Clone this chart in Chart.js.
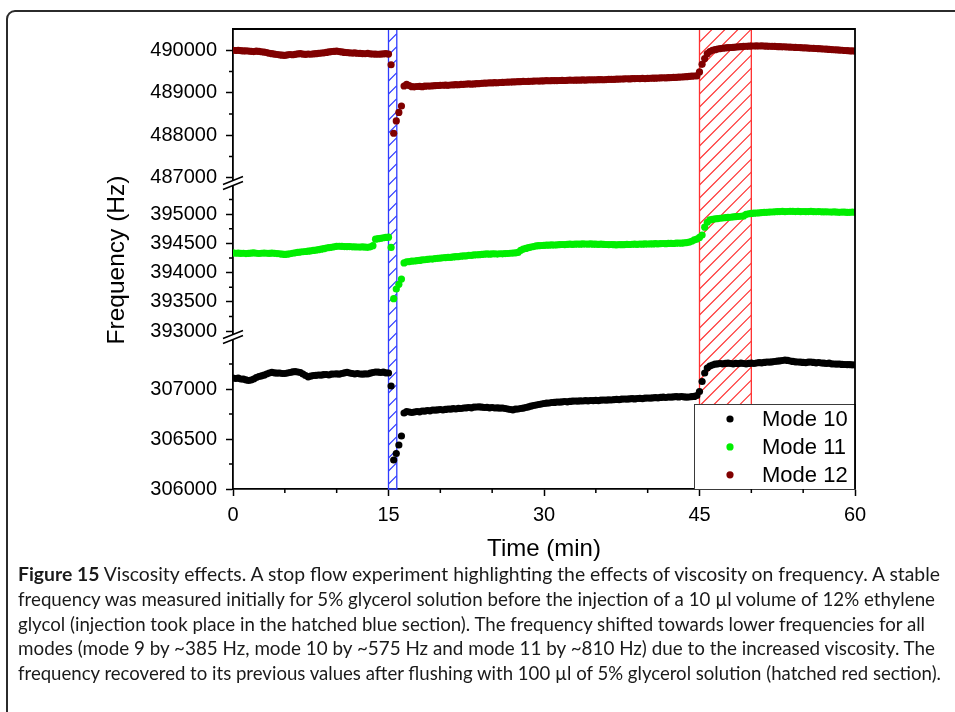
<!DOCTYPE html>
<html>
<head>
<meta charset="utf-8">
<title>Viscosity effects</title>
<script src="https://cdn.jsdelivr.net/npm/chart.js@4.4.1/dist/chart.umd.min.js"></script>
<style>
    html, body { margin: 0; padding: 0; background: #fff; }
    body { width: 955px; height: 712px; position: relative; overflow: hidden; }
    #frame {
        position: absolute; left: 6px; top: 10px; width: 1000px; height: 760px;
        border: 2px solid #2b2b2b; border-radius: 9px; box-sizing: border-box;
    }
    #plot { position: absolute; left: 0; top: 0; }
    #caption {
        position: absolute; left: 18px; top: 562px;
        font-family: Lato, 'Open Sans', sans-serif; font-size: 19.5px; line-height: 24.8px; color: #1a1a1a;
    }
    #caption div { white-space: nowrap; width: max-content; transform-origin: 0 50%; }
    #caption b { font-weight: 700; }
</style>
</head>
<body>
<div id="frame"></div>
<canvas id="plot" width="955" height="575"></canvas>
<div id="caption">
    <div data-right="940"><b>Figure 15</b> Viscosity effects. A stop flow experiment highlighting the effects of viscosity on frequency. A stable</div>
    <div data-right="935">frequency was measured initially for 5% glycerol solution before the injection of a 10 µl volume of 12% ethylene</div>
    <div data-right="925">glycol (injection took place in the hatched blue section). The frequency shifted towards lower frequencies for all</div>
    <div data-right="935">modes (mode 9 by ~385 Hz, mode 10 by ~575 Hz and mode 11 by ~810 Hz) due to the increased viscosity. The</div>
    <div data-right="941">frequency recovered to its previous values after flushing with 100 µl of 5% glycerol solution (hatched red section).</div>
</div>
<script>
// ─── Data (time in min, frequency in Hz) ──────────────────────────────────
const TIME = [
    0, 0.25, 0.5, 0.75, 1, 1.25, 1.5, 1.75, 2, 2.25, 2.5, 2.75, 3, 3.25, 3.5, 3.75, 4, 4.25, 4.5, 4.75,
    5, 5.25, 5.5, 5.75, 6, 6.25, 6.5, 6.75, 7, 7.25, 7.5, 7.75, 8, 8.25, 8.5, 8.75, 9, 9.25, 9.5, 9.75,
    10, 10.25, 10.5, 10.75, 11, 11.25, 11.5, 11.75, 12, 12.25, 12.5, 12.75, 13, 13.25, 13.5, 13.75, 14, 14.25, 14.5, 14.75,
    15, 15.25, 15.5, 15.75, 16, 16.25, 16.5, 16.75, 17, 17.25, 17.5, 17.75, 18, 18.25, 18.5, 18.75, 19, 19.25, 19.5, 19.75,
    20, 20.25, 20.5, 20.75, 21, 21.25, 21.5, 21.75, 22, 22.25, 22.5, 22.75, 23, 23.25, 23.5, 23.75, 24, 24.25, 24.5, 24.75,
    25, 25.25, 25.5, 25.75, 26, 26.25, 26.5, 26.75, 27, 27.25, 27.5, 27.75, 28, 28.25, 28.5, 28.75, 29, 29.25, 29.5, 29.75,
    30, 30.25, 30.5, 30.75, 31, 31.25, 31.5, 31.75, 32, 32.25, 32.5, 32.75, 33, 33.25, 33.5, 33.75, 34, 34.25, 34.5, 34.75,
    35, 35.25, 35.5, 35.75, 36, 36.25, 36.5, 36.75, 37, 37.25, 37.5, 37.75, 38, 38.25, 38.5, 38.75, 39, 39.25, 39.5, 39.75,
    40, 40.25, 40.5, 40.75, 41, 41.25, 41.5, 41.75, 42, 42.25, 42.5, 42.75, 43, 43.25, 43.5, 43.75, 44, 44.25, 44.5, 44.75,
    45, 45.25, 45.5, 45.75, 46, 46.25, 46.5, 46.75, 47, 47.25, 47.5, 47.75, 48, 48.25, 48.5, 48.75, 49, 49.25, 49.5, 49.75,
    50, 50.25, 50.5, 50.75, 51, 51.25, 51.5, 51.75, 52, 52.25, 52.5, 52.75, 53, 53.25, 53.5, 53.75, 54, 54.25, 54.5, 54.75,
    55, 55.25, 55.5, 55.75, 56, 56.25, 56.5, 56.75, 57, 57.25, 57.5, 57.75, 58, 58.25, 58.5, 58.75, 59, 59.25, 59.5, 59.75,
    60
];

const MODE_10 = [
    307110, 307105, 307108, 307100, 307098, 307092, 307085, 307090, 307100, 307115, 307125, 307132, 307138, 307150, 307160, 307166, 307162, 307158, 307160, 307155,
    307155, 307160, 307165, 307172, 307174, 307170, 307165, 307150, 307135, 307122, 307128, 307135, 307137, 307140, 307138, 307143, 307145, 307140, 307148, 307150,
    307152, 307148, 307155, 307162, 307166, 307160, 307155, 307150, 307155, 307150, 307148, 307152, 307150, 307158, 307165, 307170, 307168, 307165, 307168, 307162,
    307160, 307030, 306290, 306355, 306440, 306530, 306760, 306775, 306770, 306765, 306770, 306775, 306772, 306780, 306778, 306785, 306782, 306790, 306788, 306792,
    306795, 306790, 306796, 306800, 306798, 306803, 306800, 306806, 306805, 306810, 306812, 306815, 306812, 306818, 306820, 306822, 306818, 306815, 306817, 306812,
    306815, 306810, 306812, 306808, 306810, 306805, 306800, 306795, 306792, 306798, 306800, 306805, 306808, 306815, 306822, 306828, 306835, 306840, 306845, 306850,
    306855, 306858, 306860, 306865, 306866, 306870, 306868, 306872, 306875, 306872, 306876, 306878, 306880, 306878, 306882, 306880, 306884, 306882, 306885, 306883,
    306886, 306884, 306888, 306890, 306888, 306892, 306890, 306894, 306896, 306893, 306898, 306900, 306898, 306902, 306904, 306901, 306905, 306907, 306904, 306908,
    306910, 306908, 306912, 306914, 306912, 306916, 306918, 306915, 306920, 306918, 306922, 306924, 306921, 306925, 306922, 306918, 306920, 306924, 306926, 306935,
    306975, 307075, 307160, 307210, 307230, 307240, 307248, 307252, 307255, 307252, 307256, 307258, 307255, 307252, 307256, 307254, 307258, 307255, 307252, 307256,
    307258, 307255, 307260, 307264, 307262, 307266, 307270, 307268, 307272, 307275, 307278, 307282, 307285, 307290, 307286, 307280, 307276, 307272, 307270, 307268,
    307266, 307264, 307268, 307270, 307266, 307262, 307265, 307260, 307258, 307255, 307258, 307252, 307250, 307248, 307250, 307246, 307245, 307243, 307244, 307242,
    307240
];

const MODE_11 = [
    394335, 394330, 394332, 394328, 394330, 394325, 394328, 394332, 394335, 394330, 394326, 394330, 394334, 394330, 394328, 394332, 394329, 394325, 394320, 394315,
    394310, 394315, 394322, 394330, 394338, 394345, 394350, 394356, 394360, 394366, 394372, 394378, 394385, 394392, 394400, 394408, 394418, 394425, 394432, 394440,
    394448, 394450, 394446, 394444, 394442, 394445, 394440, 394438, 394437, 394435, 394438, 394434, 394431, 394440, 394460, 394570, 394580, 394585, 394595, 394600,
    394605, 394430, 393555, 393720, 393800, 393890, 394165, 394185, 394188, 394196, 394198, 394206, 394208, 394217, 394219, 394224, 394232, 394230, 394240, 394243,
    394247, 394253, 394254, 394260, 394261, 394268, 394271, 394273, 394281, 394285, 394287, 394294, 394295, 394301, 394305, 394306, 394311, 394314, 394318, 394315,
    394318, 394320, 394317, 394322, 394320, 394324, 394326, 394330, 394334, 394336, 394345, 394380, 394402, 394412, 394425, 394435, 394445, 394455, 394460, 394463,
    394466, 394468, 394470, 394472, 394471, 394475, 394478, 394480, 394478, 394482, 394485, 394483, 394486, 394488, 394486, 394490, 394488, 394487, 394489, 394486,
    394485, 394483, 394486, 394482, 394480, 394478, 394480, 394477, 394475, 394478, 394476, 394479, 394482, 394480, 394484, 394486, 394483, 394488, 394486, 394490,
    394488, 394491, 394490, 394494, 394492, 394495, 394497, 394494, 394498, 394500, 394497, 394502, 394505, 394503, 394508, 394512, 394520, 394535, 394560, 394572,
    394600, 394640, 394775, 394860, 394900, 394910, 394918, 394922, 394928, 394932, 394938, 394942, 394945, 394950, 394955, 394958, 394962, 394968, 394995, 395005,
    395010, 395015, 395018, 395020, 395025, 395028, 395030, 395033, 395035, 395038, 395040, 395042, 395044, 395041, 395043, 395046, 395045, 395042, 395044, 395041,
    395043, 395040, 395042, 395045, 395041, 395039, 395042, 395038, 395036, 395038, 395035, 395033, 395036, 395032, 395030, 395033, 395031, 395028, 395030, 395032,
    395030
];

const MODE_12 = [
    490000, 489995, 489998, 489990, 489985, 489988, 489980, 489975, 489970, 489978, 489972, 489965, 489955, 489945, 489930, 489920, 489910, 489900, 489890, 489885,
    489880, 489892, 489900, 489895, 489905, 489915, 489920, 489910, 489905, 489912, 489906, 489915, 489920, 489925, 489935, 489940, 489950, 489960, 489970, 489975,
    489978, 489970, 489960, 489950, 489945, 489940, 489935, 489938, 489930, 489925, 489922, 489918, 489925, 489915, 489912, 489908, 489906, 489910, 489915, 489920,
    489910, 489660, 488050, 488340, 488540, 488690, 489160, 489200, 489170, 489145, 489140, 489148, 489150, 489145, 489155, 489160, 489158, 489165, 489168, 489172,
    489175, 489178, 489180, 489176, 489184, 489188, 489192, 489190, 489196, 489200, 489205, 489208, 489204, 489210, 489215, 489218, 489222, 489226, 489230, 489232,
    489235, 489238, 489236, 489242, 489245, 489248, 489250, 489254, 489256, 489258, 489262, 489264, 489268, 489266, 489270, 489272, 489275, 489278, 489276, 489280,
    489282, 489285, 489283, 489286, 489288, 489285, 489290, 489292, 489290, 489294, 489296, 489295, 489298, 489296, 489300, 489302, 489299, 489304, 489306, 489303,
    489306, 489308, 489310, 489307, 489312, 489315, 489318, 489316, 489320, 489322, 489325, 489328, 489330, 489327, 489332, 489334, 489336, 489333, 489338, 489335,
    489338, 489342, 489345, 489343, 489348, 489350, 489354, 489352, 489356, 489358, 489362, 489365, 489368, 489372, 489376, 489380, 489385, 489390, 489395, 489400,
    489490, 489670, 489805, 489920, 489970, 490000, 490015, 490028, 490040, 490048, 490055, 490060, 490065, 490070, 490075, 490080, 490085, 490090, 490094, 490096,
    490098, 490100, 490102, 490100, 490101, 490099, 490097, 490095, 490092, 490090, 490088, 490085, 490082, 490080, 490077, 490075, 490071, 490068, 490065, 490062,
    490058, 490055, 490052, 490048, 490045, 490042, 490038, 490035, 490030, 490025, 490020, 490016, 490012, 490008, 490004, 490000, 489995, 489990, 489988, 489985,
    489983
];

const SERIES_NAMES = ['Mode 10', 'Mode 11', 'Mode 12'];

// Axis ranges of the three panels of the broken frequency axis
const TOP_RANGE = [486880, 490500];
const MID_RANGE = [392900, 395530];
const LOW_RANGE = [306000, 307520];

// Labelled and unlabelled ticks
const X_TICKS = [0, 15, 30, 45, 60];
const X_MINOR = [5, 10, 20, 25, 35, 40, 50, 55];
const TOP_TICKS = [487000, 488000, 489000, 490000];
const TOP_MINOR = [487500, 488500, 489500];
const MID_TICKS = [393000, 393500, 394000, 394500, 395000];
const MID_MINOR = [393250, 393750, 394250, 394750, 395250];
const LOW_TICKS = [306000, 306500, 307000];
const LOW_MINOR = [306250, 306750, 307250];

// Injection (blue) and flushing (red) intervals, min
const INJECT_SPAN = [15, 15.8];
const FLUSH_SPAN = [45, 50];

// ─── Style ────────────────────────────────────────────────────────────────
const COLORS = {
    mode10: '#000000',
    mode11: '#00ee00',
    mode12: '#800000',
    inject: '#2f3cff',
    flush:  '#ff3030',
    axis:   '#000000',
};
const SERIES_COLORS = [COLORS.mode10, COLORS.mode11, COLORS.mode12];
const AXIS_W = 233;
const DOT_R = 3.6;
const TICK_FONT = { size: 20 };

Chart.defaults.font.family = "'Liberation Sans', Arial, sans-serif";
Chart.defaults.color = '#000';

function points(values) {
    return TIME.map((t, i) => ({ x: t, y: values[i] }));
}

function yAxis(range, ticks, weight, extra) {
    return Object.assign({
        type: 'linear',
        position: 'left',
        stack: 'freq',
        stackWeight: weight,
        min: range[0],
        max: range[1],
        afterBuildTicks: (s) => { s.ticks = ticks.map(v => ({ value: v })); },
        afterFit: (s) => { s.width = AXIS_W; },
        ticks: { color: '#000', font: TICK_FONT, padding: 9, autoSkip: false, callback: (v) => String(v) },
        grid: { drawOnChartArea: false, tickLength: 7, tickColor: COLORS.axis, tickWidth: 1.5 },
        border: { color: COLORS.axis, width: 1.8 },
    }, extra || {});
}

// ─── Hatched intervals ────────────────────────────────────────────────────
function drawHatch(ctx, x0, x1, top, bottom, color) {
    const w = x1 - x0;
    ctx.save();
    ctx.beginPath();
    ctx.rect(x0, top, w, bottom - top);
    ctx.clip();
    ctx.strokeStyle = color;
    ctx.lineWidth = 1.1;
    ctx.beginPath();
    for (let c = top; c < bottom + w + 13; c += 13) {
        ctx.moveTo(x0, c);
        ctx.lineTo(x1, c - w);
    }
    ctx.stroke();
    ctx.restore();
    ctx.save();
    ctx.strokeStyle = color;
    ctx.lineWidth = 1.3;
    ctx.strokeRect(x0, top, w, bottom - top);
    ctx.restore();
}

const hatchPlugin = {
    id: 'hatch',
    beforeDatasetsDraw(chart) {
        const { ctx, chartArea: a, scales: { x } } = chart;
        drawHatch(ctx, x.getPixelForValue(INJECT_SPAN[0]), x.getPixelForValue(INJECT_SPAN[1]), a.top, a.bottom, COLORS.inject);
        drawHatch(ctx, x.getPixelForValue(FLUSH_SPAN[0]), x.getPixelForValue(FLUSH_SPAN[1]), a.top, a.bottom, COLORS.flush);
    }
};

// ─── Legend box inside the plot ───────────────────────────────────────────
const legendPlugin = {
    id: 'boxLegend',
    afterDatasetsDraw(chart) {
        const { ctx, chartArea: a } = chart;
        const W = 161, H = 85;
        const x0 = a.right - W, y0 = a.bottom - H;
        ctx.save();
        ctx.fillStyle = '#fff';
        ctx.fillRect(x0, y0, W, H);
        ctx.strokeStyle = '#3a3a3a';
        ctx.lineWidth = 1;
        ctx.strokeRect(x0 + 0.5, y0 + 0.5, W, H);
        ctx.font = "22px 'Liberation Sans', Arial, sans-serif";
        ctx.textBaseline = 'middle';
        SERIES_NAMES.forEach((name, i) => {
            const cy = y0 + 15 + i * 27.9;
            ctx.fillStyle = SERIES_COLORS[i];
            ctx.beginPath();
            ctx.arc(x0 + 36, cy, DOT_R, 0, Math.PI * 2);
            ctx.fill();
            ctx.fillStyle = '#000';
            ctx.fillText(name, x0 + 68, cy + 1);
        });
        ctx.restore();
    }
};

// ─── Frame, minor ticks, axis breaks ──────────────────────────────────────
const framePlugin = {
    id: 'frame',
    afterDraw(chart) {
        const { ctx, chartArea: a, scales } = chart;
        ctx.save();
        ctx.strokeStyle = COLORS.axis;
        ctx.lineWidth = 1.8;
        ctx.beginPath();
        ctx.moveTo(a.left, a.top);
        ctx.lineTo(a.right, a.top);
        ctx.lineTo(a.right, a.bottom);
        ctx.stroke();

        // minor ticks
        ctx.lineWidth = 1.5;
        ctx.beginPath();
        X_MINOR.forEach(v => {
            const px = scales.x.getPixelForValue(v);
            ctx.moveTo(px, a.bottom);
            ctx.lineTo(px, a.bottom + 4);
        });
        [[scales.yTop, TOP_MINOR], [scales.yMid, MID_MINOR], [scales.yLow, LOW_MINOR]].forEach(([s, vals]) => {
            vals.forEach(v => {
                const py = s.getPixelForValue(v);
                ctx.moveTo(a.left - 4, py);
                ctx.lineTo(a.left, py);
            });
        });
        ctx.stroke();

        // break marks between the panels
        [scales.yTop.bottom, scales.yMid.bottom].forEach(b => {
            const cx = a.left;
            ctx.fillStyle = '#fff';
            ctx.beginPath();
            ctx.moveTo(cx - 10, b + 1.5);
            ctx.lineTo(cx + 10, b - 6.5);
            ctx.lineTo(cx + 10, b - 1.5);
            ctx.lineTo(cx - 10, b + 6.5);
            ctx.closePath();
            ctx.fill();
            ctx.lineWidth = 1.5;
            ctx.beginPath();
            ctx.moveTo(cx - 10, b + 1.5);
            ctx.lineTo(cx + 10, b - 6.5);
            ctx.moveTo(cx - 10, b + 6.5);
            ctx.lineTo(cx + 10, b - 1.5);
            ctx.stroke();
        });
        ctx.restore();
    }
};

const datasets = [MODE_10, MODE_11, MODE_12].map((vals, i) => ({
    label: SERIES_NAMES[i],
    data: points(vals),
    yAxisID: ['yLow', 'yMid', 'yTop'][i],
    pointRadius: DOT_R,
    pointBorderWidth: 0,
    pointBackgroundColor: SERIES_COLORS[i],
    backgroundColor: SERIES_COLORS[i],
    showLine: false,
}));

new Chart(document.getElementById('plot'), {
    type: 'scatter',
    data: { datasets },
    options: {
        responsive: false,
        animation: false,
        events: [],
        layout: { padding: { top: 29, right: 100, bottom: 0, left: 0 } },
        plugins: {
            legend: { display: false },
            tooltip: { enabled: false },
        },
        scales: {
            x: {
                type: 'linear',
                position: 'bottom',
                min: 0,
                max: 60,
                afterBuildTicks: (s) => { s.ticks = X_TICKS.map(v => ({ value: v })); },
                afterFit: (s) => { s.height = 86; },
                ticks: { color: '#000', font: TICK_FONT, padding: 7, autoSkip: false },
                grid: { drawOnChartArea: false, tickLength: 7, tickColor: COLORS.axis, tickWidth: 1.5 },
                border: { color: COLORS.axis, width: 1.8 },
                title: { display: true, text: 'Time (min)', color: '#000', font: { size: 24 }, padding: { top: 0, bottom: 11 } },
            },
            yLow: yAxis(LOW_RANGE, LOW_TICKS, 152),
            yMid: yAxis(MID_RANGE, MID_TICKS, 154, {
                title: { display: true, text: 'Frequency (Hz)', color: '#000', font: { size: 24.5 }, padding: { top: 103, bottom: 0 } },
            }),
            yTop: yAxis(TOP_RANGE, TOP_TICKS, 154),
        }
    },
    plugins: [hatchPlugin, legendPlugin, framePlugin]
});

// caption lines are set in a condensed width
document.fonts.ready.then(function () {
    document.querySelectorAll('#caption div').forEach(function (line) {
        const w = line.getBoundingClientRect().width;
        const target = Number(line.dataset.right) - 18;
        line.style.transform = 'scaleX(' + (target / w) + ')';
    });
});
</script>
</body>
</html>
